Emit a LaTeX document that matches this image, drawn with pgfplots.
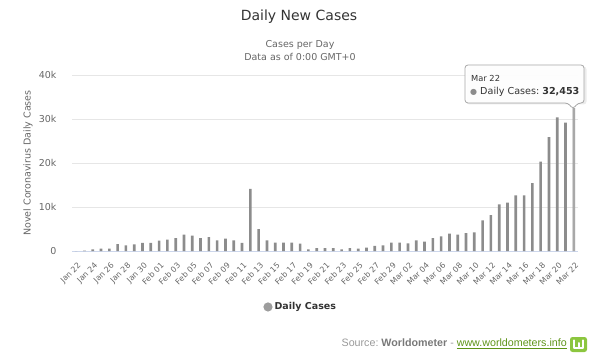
\documentclass[border=0pt]{standalone}
\usepackage{pgfplots}
\pgfplotsset{compat=1.18}
\usepackage{fontspec}
\setmainfont{DejaVu Sans}
\newfontfamily\srcfont{Liberation Sans}
\definecolor{bargray}{HTML}{8C8C8C}
\definecolor{barhover}{HTML}{A8A8A8}
\definecolor{gridc}{HTML}{E6E6E6}
\definecolor{axisc}{HTML}{CCD6EB}
\definecolor{titlec}{HTML}{333333}
\definecolor{subc}{HTML}{666666}
\definecolor{linkgreen}{HTML}{5E9418}
\definecolor{icongreen}{HTML}{8CC63F}
\begin{document}
\begin{tikzpicture}[x=1pt,y=1pt]
\useasboundingbox (0,0) rectangle (600,362);
\begin{axis}[
  at={(72pt,111pt)}, anchor=south west,
  scale only axis, width=506pt, height=176pt,
  xmin=-0.5, xmax=60.5, ymin=0, ymax=40000,
  axis lines*=left,
  y axis line style={draw=none},
  x axis line style={draw=axisc, line width=0.8pt},
  major tick length=0pt,
  scaled y ticks=false,
  ymajorgrids, grid style={gridc, line width=0.8pt},
  ytick={0,10000,20000,30000,40000},
  yticklabels={0,10k,20k,30k,40k},
  yticklabel style={text=subc, font=\fontsize{9.5}{11}\selectfont, anchor=east, xshift=-12pt},
  xtick={0,2,...,60},
  xticklabels={Jan 22,Jan 24,Jan 26,Jan 28,Jan 30,Feb 01,Feb 03,Feb 05,Feb 07,Feb 09,Feb 11,Feb 13,Feb 15,Feb 17,Feb 19,Feb 21,Feb 23,Feb 25,Feb 27,Feb 29,Mar 02,Mar 04,Mar 06,Mar 08,Mar 10,Mar 12,Mar 14,Mar 16,Mar 18,Mar 20,Mar 22},
  xticklabel style={yshift=-6pt, xshift=1pt, rotate=45, anchor=north east, text=subc, font=\fontsize{7.9}{9}\selectfont},
  ylabel={Novel Coronavirus Daily Cases},
  ylabel style={at={(axis description cs:-0.087,0.5)}, anchor=center, text=subc, font=\fontsize{9.5}{11}\selectfont},
  legend style={draw=none, fill=none, at={(0.452,-0.318)}, anchor=center,
    font=\bfseries\fontsize{9.5}{11}\selectfont, text=titlec},
  ybar, bar width=0.32,
]
\addplot[fill=bargray, draw=none, bar shift=0pt,
  legend image code/.code={\fill[bargray!85] (0.15cm,0pt) circle (4.6pt);}] coordinates {
(0,0) (1,100) (2,380) (3,530) (4,560) (5,1590) (6,1290) (7,1520) (8,1820) (9,1820)
(10,2350) (11,2580) (12,2950) (13,3710) (14,3520) (15,2950) (16,3180) (17,2420) (18,2800) (19,2420)
(20,1820) (21,14100) (22,5000) (23,2420) (24,1890) (25,1890) (26,1890) (27,1670) (28,380) (29,680)
(30,680) (31,680) (32,380) (33,680) (34,530) (35,760) (36,1140) (37,1290) (38,1890) (39,1890)
(40,1740) (41,2420) (42,2120) (43,2900) (44,3330) (45,3940) (46,3710) (47,4090) (48,4240) (49,6970)
(50,8180) (51,10600) (52,10990) (53,12650) (54,12650) (55,15450) (56,20300) (57,25900) (58,30380) (59,29170)
(60,32453)
};
\addlegendentry{Daily Cases}
\addplot[fill=barhover, draw=none, bar shift=0pt, forget plot] coordinates {(60,32453)};
\end{axis}
% titles
\node[text=titlec, font=\fontsize{14}{16}\selectfont] at (299,345) {Daily New Cases};
\node[text=subc, font=\fontsize{9.5}{11}\selectfont] at (300,317) {Cases per Day};
\node[text=subc, font=\fontsize{9.5}{11}\selectfont] at (300,305) {Data as of 0:00 GMT+0};
% tooltip
\fill[black, opacity=0.08, rounded corners=3pt] (466.5,257.5) rectangle (586.5,295.5);
\draw[gray!70, line width=0.8pt, fill=white, fill opacity=0.95, rounded corners=3pt]
  (465,297) -- (584,297) -- (584,259) -- (578,259) -- (573,253) -- (568,259) -- (465,259) -- cycle;
\node[anchor=west, text=titlec, font=\fontsize{8.3}{10}\selectfont, inner sep=0pt] at (471,284) {Mar 22};
\node[anchor=west, text=titlec, font=\fontsize{9.6}{12}\selectfont, inner sep=0pt] at (470,270.5)
  {\textcolor{bargray}{\fontsize{8}{10}\selectfont●}\ Daily Cases:\ \textbf{32,453}};
% source
\node[anchor=east, inner sep=0pt, font=\srcfont\fontsize{10.7}{13}\selectfont] at (567,18)
  {\textcolor{gray!80}{Source:\ }\textcolor{gray!95!black}{\bfseries Worldometer}\textcolor{gray!80}{\ -\ }\textcolor{linkgreen}{\underline{www.worldometers.info}}};
\fill[icongreen, rounded corners=2.5pt] (570,10) rectangle (587,25);
\draw[white, line width=2.2pt, line cap=round, line join=round] (573.8,21.5) -- (573.8,13.8) -- (583.2,13.8) -- (583.2,21.5);
\draw[white, line width=2pt, line cap=round] (578.5,13.8) -- (578.5,19);
\end{tikzpicture}
\end{document}
